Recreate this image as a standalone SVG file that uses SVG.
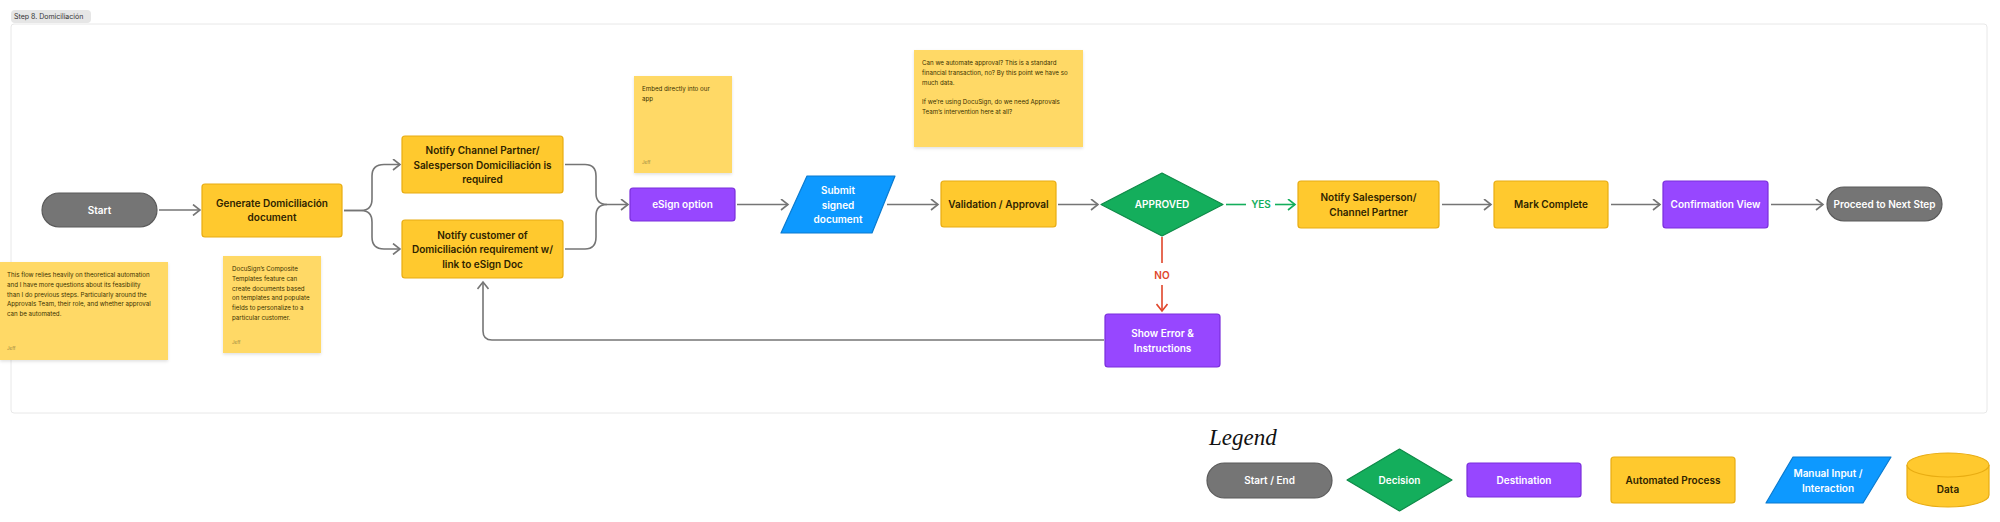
<svg xmlns="http://www.w3.org/2000/svg" width="2000" height="522" viewBox="0 0 2000 522">
<defs>
<style>
.t{font-family:Inter,"Noto Sans",sans-serif;font-size:10px;font-weight:600;text-anchor:middle}
.dk{fill:#2e2300}
.wh{fill:#ffffff}
.yel{fill:#FFC92E;stroke:#E8AC12;stroke-width:1.2}
.pur{fill:#9747FF;stroke:#7A2EDB;stroke-width:1.2}
.blu{fill:#0D99FF;stroke:#0A7BD0;stroke-width:1.2;stroke-linejoin:round}
.grn{fill:#14AE5C;stroke:#0E8A48;stroke-width:1.2;stroke-linejoin:round}
.gry{fill:#757575;stroke:#5A5A5A;stroke-width:1.2}
.stk{fill:#FFD966}
.st{font-family:Inter,"Noto Sans",sans-serif;font-size:6.2px;fill:#3a3000}
.jf{font-family:Inter,"Noto Sans",sans-serif;font-size:4.5px;fill:#9a8540}
.c{fill:none;stroke:#757575;stroke-width:1.6}
</style>
<marker id="ag" markerUnits="userSpaceOnUse" markerWidth="10" markerHeight="12" refX="7" refY="5.5" orient="auto" viewBox="-1 -0.5 10 12">
<path d="M0,0 L7,5.5 L0,11" fill="none" stroke="#757575" stroke-width="1.6"/>
</marker>
<marker id="agr" markerUnits="userSpaceOnUse" markerWidth="10" markerHeight="12" refX="7" refY="5.5" orient="auto" viewBox="-1 -0.5 10 12">
<path d="M0,0 L7,5.5 L0,11" fill="none" stroke="#14AE5C" stroke-width="1.6"/>
</marker>
<marker id="ar" markerUnits="userSpaceOnUse" markerWidth="10" markerHeight="12" refX="7" refY="5.5" orient="auto" viewBox="-1 -0.5 10 12">
<path d="M0,0 L7,5.5 L0,11" fill="none" stroke="#E0452A" stroke-width="1.6"/>
</marker>
<filter id="sh" x="-10%" y="-10%" width="120%" height="130%">
<feDropShadow dx="0" dy="1.5" stdDeviation="1.5" flood-color="#000" flood-opacity="0.12"/>
</filter>
</defs>
<rect x="0" y="0" width="2000" height="522" fill="#ffffff"/>

<g id="frame">
<rect x="11" y="24" width="1976" height="389" rx="3" fill="#ffffff" stroke="#e8e8e8" stroke-width="1"/>
<rect x="11" y="10" width="80" height="13" rx="4" fill="#e6e6e6"/>
<text x="14" y="18.7" style="font-family:Inter,'Noto Sans',sans-serif;font-size:7px;fill:#333">Step 8. Domiciliación</text>
</g>

<g id="connectors">
<path class="c" d="M159 210 H200" marker-end="url(#ag)"/>
<path class="c" d="M344 210.5 H361 Q372 210.5 372 199 V176 Q372 164.5 384 164.5 H400" marker-end="url(#ag)"/>
<path class="c" d="M344 210.5 H361 Q372 210.5 372 222 V237 Q372 249 384 249 H400" marker-end="url(#ag)"/>
<path class="c" d="M565 164.5 H585 Q596 164.5 596 176 V193 Q596 204.5 607 204.5 H628" marker-end="url(#ag)"/>
<path class="c" d="M565 249 H585 Q596 249 596 237 V216 Q596 204.5 607 204.5"/>
<path class="c" d="M737 204.5 H788" marker-end="url(#ag)"/>
<path class="c" d="M887 204.5 H938" marker-end="url(#ag)"/>
<path class="c" d="M1058 204.5 H1098" marker-end="url(#ag)"/>
<path d="M1226 204.5 H1246" fill="none" stroke="#14AE5C" stroke-width="1.6"/>
<text x="1261" y="208" class="t" style="fill:#14AE5C">YES</text>
<path d="M1275 204.5 H1295" fill="none" stroke="#14AE5C" stroke-width="1.6" marker-end="url(#agr)"/>
<path d="M1162 237 V263" fill="none" stroke="#E0452A" stroke-width="1.6"/>
<text x="1162" y="278.5" class="t" style="fill:#E0452A">NO</text>
<path d="M1162 285 V311" fill="none" stroke="#E0452A" stroke-width="1.6" marker-end="url(#ar)"/>
<path class="c" d="M1104 340 H492 Q483 340 483 331 V282" marker-end="url(#ag)"/>
<path class="c" d="M1442 204.5 H1491" marker-end="url(#ag)"/>
<path class="c" d="M1611 204.5 H1660" marker-end="url(#ag)"/>
<path class="c" d="M1771 204.5 H1823" marker-end="url(#ag)"/>
</g>

<g id="start">
<rect x="42" y="193" width="115" height="34" rx="17" class="gry"/>
<text x="99.5" y="213.6" class="t wh">Start</text>
</g>
<g id="generate">
<rect x="202" y="184" width="140" height="53" rx="3" class="yel"/>
<text x="272" y="206.8" class="t dk">Generate Domiciliación</text>
<text x="272" y="221.3" class="t dk">document</text>
</g>
<g id="notify-channel">
<rect x="402" y="136" width="161" height="57" rx="3" class="yel"/>
<text x="482.5" y="154.3" class="t dk">Notify Channel Partner/</text>
<text x="482.5" y="168.8" class="t dk">Salesperson Domiciliación is</text>
<text x="482.5" y="183.3" class="t dk">required</text>
</g>
<g id="notify-customer">
<rect x="402" y="220" width="161" height="58" rx="3" class="yel"/>
<text x="482.5" y="238.6" class="t dk">Notify customer of</text>
<text x="482.5" y="253.1" class="t dk">Domiciliación requirement w/</text>
<text x="482.5" y="267.6" class="t dk">link to eSign Doc</text>
</g>
<g id="esign">
<rect x="630" y="188" width="105" height="33" rx="3" class="pur"/>
<text x="682.5" y="208.1" class="t wh">eSign option</text>
</g>
<g id="submit">
<path d="M807 176 H895 L872 233 H781 Z" class="blu"/>
<text x="838" y="193.6" class="t wh">Submit</text>
<text x="838" y="208.6" class="t wh">signed</text>
<text x="838" y="222.6" class="t wh">document</text>
</g>
<g id="validation">
<rect x="941" y="181" width="115" height="46" rx="3" class="yel"/>
<text x="998.5" y="208.1" class="t dk">Validation / Approval</text>
</g>
<g id="approved">
<path d="M1162 173 L1223 204.5 L1162 236 L1101 204.5 Z" class="grn"/>
<text x="1162" y="208.1" class="t wh">APPROVED</text>
</g>
<g id="notify-salesperson">
<rect x="1298" y="181" width="141" height="47" rx="3" class="yel"/>
<text x="1368.5" y="200.6" class="t dk">Notify Salesperson/</text>
<text x="1368.5" y="215.6" class="t dk">Channel Partner</text>
</g>
<g id="mark-complete">
<rect x="1494" y="181" width="114" height="47" rx="3" class="yel"/>
<text x="1551" y="208.1" class="t dk">Mark Complete</text>
</g>
<g id="confirmation">
<rect x="1663" y="181" width="105" height="47" rx="3" class="pur"/>
<text x="1715.5" y="208.1" class="t wh">Confirmation View</text>
</g>
<g id="proceed">
<rect x="1827" y="187" width="115" height="34" rx="17" class="gry"/>
<text x="1884.5" y="207.6" class="t wh">Proceed to Next Step</text>
</g>
<g id="show-error">
<rect x="1105" y="314" width="115" height="53" rx="3" class="pur"/>
<text x="1162.5" y="336.9" class="t wh">Show Error &amp;</text>
<text x="1162.5" y="351.9" class="t wh">Instructions</text>
</g>

<g id="note-feasibility">
<rect x="0" y="262" width="168" height="98" class="stk" filter="url(#sh)"/>
<text class="st" x="7" y="277.2">This flow relies heavily on theoretical automation</text>
<text class="st" x="7" y="287">and I have more questions about its feasibility</text>
<text class="st" x="7" y="296.7">than I do previous steps. Particularly around the</text>
<text class="st" x="7" y="306.4">Approvals Team, their role, and whether approval</text>
<text class="st" x="7" y="316.1">can be automated.</text>
<text class="jf" x="7" y="349.5">Jeff</text>
</g>
<g id="note-docusign">
<rect x="223" y="256" width="98" height="97" class="stk" filter="url(#sh)"/>
<text class="st" x="232" y="271.2">DocuSign’s Composite</text>
<text class="st" x="232" y="280.9">Templates feature can</text>
<text class="st" x="232" y="290.6">create documents based</text>
<text class="st" x="232" y="300.3">on templates and populate</text>
<text class="st" x="232" y="310">fields to personalize to a</text>
<text class="st" x="232" y="319.7">particular customer.</text>
<text class="jf" x="232" y="343.5">Jeff</text>
</g>
<g id="note-embed">
<rect x="634" y="76" width="98" height="97" class="stk" filter="url(#sh)"/>
<text class="st" x="642" y="91.2">Embed directly into our</text>
<text class="st" x="642" y="100.9">app</text>
<text class="jf" x="642" y="163.5">Jeff</text>
</g>
<g id="note-approvals">
<rect x="914" y="50" width="169" height="97" class="stk" filter="url(#sh)"/>
<text class="st" x="922" y="65.2">Can we automate approval? This is a standard</text>
<text class="st" x="922" y="74.9">financial transaction, no? By this point we have so</text>
<text class="st" x="922" y="84.6">much data.</text>
<text class="st" x="922" y="104">If we’re using DocuSign, do we need Approvals</text>
<text class="st" x="922" y="113.7">Team’s intervention here at all?</text>
</g>

<g id="legend">
<text x="1209" y="445" style="font-family:'Liberation Serif',serif;font-style:italic;font-size:23px;fill:#111">Legend</text>
<g id="legend-startend">
<rect x="1207" y="463" width="125" height="35" rx="17.5" class="gry"/>
<text x="1269.5" y="484.1" class="t wh">Start / End</text>
</g>
<g id="legend-decision">
<path d="M1399.5 449 L1452 480 L1399.5 511 L1347 480 Z" class="grn"/>
<text x="1399.5" y="483.6" class="t wh">Decision</text>
</g>
<g id="legend-destination">
<rect x="1467" y="463" width="114" height="34" rx="3" class="pur"/>
<text x="1524" y="483.6" class="t wh">Destination</text>
</g>
<g id="legend-automated">
<rect x="1611" y="457" width="124" height="46" rx="3" class="yel"/>
<text x="1673" y="483.6" class="t dk">Automated Process</text>
</g>
<g id="legend-manual">
<path d="M1793 457 H1891 L1863 503 H1766 Z" class="blu"/>
<text x="1828" y="476.6" class="t wh">Manual Input /</text>
<text x="1828" y="491.6" class="t wh">Interaction</text>
</g>
<g id="legend-data">
<path d="M1907 465 V495 A41 12 0 0 0 1989 495 V465" class="yel"/>
<ellipse cx="1948" cy="465" rx="41" ry="12" class="yel"/>
<text x="1948" y="492.6" class="t dk">Data</text>
</g>
</g>
</svg>
